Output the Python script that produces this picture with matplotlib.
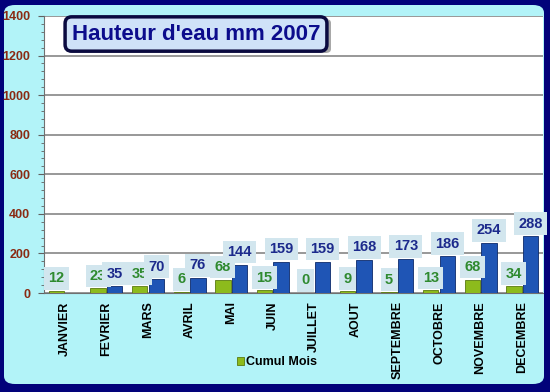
import numpy as np
import matplotlib.pyplot as plt
from matplotlib.patches import FancyBboxPatch

months = ["JANVIER", "FEVRIER", "MARS", "AVRIL", "MAI", "JUIN", "JUILLET",
          "AOUT", "SEPTEMBRE", "OCTOBRE", "NOVEMBRE", "DECEMBRE"]
cumul_mois = [12, 23, 35, 6, 68, 15, 0, 9, 5, 13, 68, 34]
cumul_annee = [None, 35, 70, 76, 144, 159, 159, 168, 173, 186, 254, 288]
yticks = [0, 200, 400, 600, 800, 1000, 1200, 1400]

plt.rcParams['font.family'] = ['Liberation Sans', 'DejaVu Sans']

W, H = 550, 392
fig = plt.figure(figsize=(W / 100, H / 100), dpi=100)
fig.patch.set_facecolor('#02027a')

# light cyan rounded panel
panel = FancyBboxPatch((4 / W, 8 / H), 540 / W, 379 / H,
                       boxstyle="round,pad=0,rounding_size=0.02",
                       transform=fig.transFigure, facecolor='#b2f3f8',
                       edgecolor='none', zorder=-10)
fig.patches.append(panel)

ax = fig.add_axes([44 / W, 1 - 293 / H, 499 / W, 277 / H])
ax.set_facecolor('white')
x = np.arange(len(months))
w = 0.37

green = ax.bar(x - 0.2, cumul_mois, w, color='#8dbb1c', edgecolor='#5a7a10',
               linewidth=0.6, zorder=3, label='Cumul Mois')
blue_vals = [v if v is not None else 0 for v in cumul_annee]
blue = ax.bar(x + 0.2, blue_vals, w, color='#1f55b5', edgecolor='#0c2a6a',
              linewidth=0.6, zorder=3)

for i, v in enumerate(cumul_mois):
    ax.annotate(str(v), (x[i] - 0.2, v), xytext=(0, 9), textcoords='offset points',
                ha='center', va='center', fontsize=10.5, fontweight='bold',
                color='#2f8a2f', zorder=5,
                bbox=dict(boxstyle='square,pad=0.3', fc='#d2e6ee', ec='none'))
for i, v in enumerate(cumul_annee):
    if v is None:
        continue
    ax.annotate(str(v), (x[i] + 0.2, v), xytext=(0, 9), textcoords='offset points',
                ha='center', va='center', fontsize=10.5, fontweight='bold',
                color='#1c2a8c', zorder=6,
                bbox=dict(boxstyle='square,pad=0.3', fc='#d2e6ee', ec='none'))

ax.set_xlim(-0.5, 11.5)
ax.set_ylim(0, 1400)
ax.set_yticks(yticks)
ax.set_yticks(np.arange(0, 1401, 40), minor=True)
ax.yaxis.grid(True, color='#909090', linewidth=1.3, zorder=1)
ax.set_axisbelow(True)
ax.tick_params(axis='y', which='major', length=4, width=0.8, color='#606060',
               labelsize=9, labelcolor='#8a2a12', pad=6)
ax.tick_params(axis='y', which='minor', length=2, width=0.6, color='#606060')
for t in ax.get_yticklabels():
    t.set_fontweight('bold')
ax.set_xticks(x)
ax.set_xticklabels(months, rotation=90, fontsize=9, fontweight='bold')
ax.tick_params(axis='x', length=0, pad=6)
for s in ['top', 'right']:
    ax.spines[s].set_visible(False)
ax.spines['left'].set_color('#707070')
ax.spines['bottom'].set_color('#707070')

# title box with a soft shadow behind it
shadow = FancyBboxPatch((67 / W, 1 - 53 / H), 264 / W, 34 / H,
                        boxstyle="round,pad=0,rounding_size=0.01",
                        transform=fig.transFigure, facecolor='#a8a8a8',
                        edgecolor='none', zorder=9, clip_on=False)
ax.add_patch(shadow)
ax.text(196 / W, 1 - 34 / H, "Hauteur d'eau mm 2007", transform=fig.transFigure,
        ha='center', va='center', fontsize=16, fontweight='bold', color='#0c0c8c',
        zorder=10,
        bbox=dict(boxstyle='round,pad=0.3,rounding_size=0.3', fc='#cfe2f8',
                  ec='#0a0a40', lw=2.5))

fig.legend(handles=[green], labels=['Cumul Mois'], loc='center',
           bbox_to_anchor=(277 / W, 1 - 362 / H), frameon=False,
           prop={'size': 9, 'weight': 'bold'},
           handlelength=0.6, handleheight=0.6, handletextpad=0.2)

fig.savefig('out.png', dpi=100, facecolor=fig.get_facecolor())
